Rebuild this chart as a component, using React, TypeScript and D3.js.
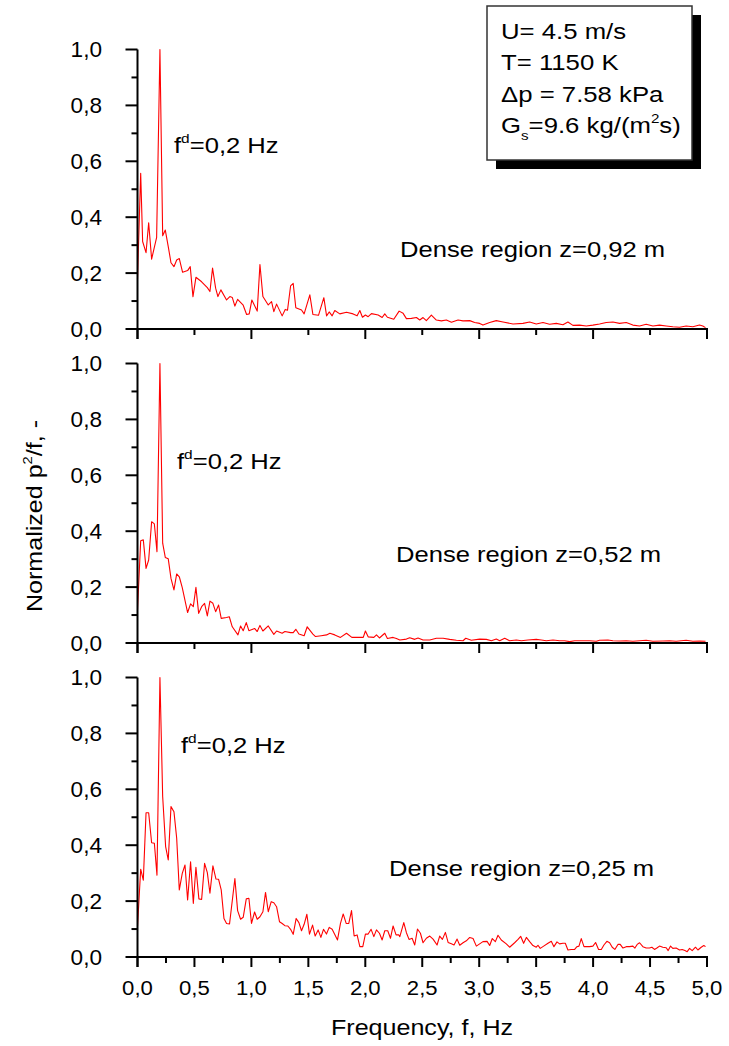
import React from 'react';
import * as d3 from 'd3';

const W = 729;
const H = 1046;

// Panel 1: Dense region z=0,92 m
const FREQ_092 = [0.0, 0.028, 0.045, 0.075, 0.098, 0.124, 0.168, 0.197, 0.221, 0.244, 0.27, 0.294, 0.32, 0.344, 0.367, 0.396, 0.44, 0.463, 0.487, 0.513, 0.563, 0.613, 0.636, 0.659, 0.686, 0.706, 0.732, 0.782, 0.811, 0.832, 0.855, 0.879, 0.928, 0.958, 0.981, 1.004, 1.051, 1.075, 1.101, 1.148, 1.177, 1.197, 1.221, 1.27, 1.297, 1.317, 1.344, 1.367, 1.39, 1.44, 1.463, 1.513, 1.54, 1.589, 1.636, 1.66, 1.683, 1.709, 1.732, 1.776, 1.835, 1.893, 1.928, 1.952, 1.975, 2.001, 2.025, 2.054, 2.113, 2.148, 2.171, 2.194, 2.25, 2.297, 2.332, 2.361, 2.405, 2.449, 2.478, 2.507, 2.536, 2.58, 2.624, 2.668, 2.712, 2.756, 2.814, 2.858, 2.917, 2.96, 3.004, 3.033, 3.092, 3.15, 3.209, 3.297, 3.384, 3.443, 3.501, 3.56, 3.618, 3.677, 3.735, 3.779, 3.823, 3.881, 3.94, 3.998, 4.057, 4.115, 4.174, 4.232, 4.291, 4.349, 4.408, 4.466, 4.525, 4.583, 4.642, 4.7, 4.759, 4.817, 4.876, 4.934, 4.963, 4.987];
const VAL_092 = [0.18, 0.557, 0.313, 0.273, 0.38, 0.25, 0.328, 1.0, 0.334, 0.354, 0.295, 0.237, 0.223, 0.247, 0.252, 0.203, 0.209, 0.223, 0.116, 0.185, 0.169, 0.148, 0.134, 0.218, 0.146, 0.116, 0.14, 0.104, 0.116, 0.113, 0.082, 0.106, 0.085, 0.052, 0.054, 0.104, 0.064, 0.231, 0.116, 0.086, 0.098, 0.062, 0.089, 0.047, 0.07, 0.067, 0.154, 0.163, 0.076, 0.068, 0.054, 0.122, 0.052, 0.049, 0.112, 0.047, 0.061, 0.047, 0.066, 0.054, 0.06, 0.054, 0.047, 0.066, 0.042, 0.05, 0.044, 0.055, 0.05, 0.041, 0.054, 0.042, 0.035, 0.064, 0.056, 0.037, 0.038, 0.041, 0.032, 0.041, 0.03, 0.05, 0.032, 0.029, 0.032, 0.024, 0.032, 0.029, 0.03, 0.023, 0.02, 0.014, 0.023, 0.03, 0.025, 0.018, 0.02, 0.025, 0.018, 0.023, 0.017, 0.02, 0.015, 0.025, 0.013, 0.014, 0.011, 0.014, 0.018, 0.023, 0.025, 0.02, 0.023, 0.014, 0.011, 0.017, 0.011, 0.014, 0.011, 0.008, 0.006, 0.011, 0.008, 0.014, 0.011, 0.005];

// Panel 2: Dense region z=0,52 m
const FREQ_052 = [0.0, 0.028, 0.051, 0.075, 0.098, 0.124, 0.148, 0.171, 0.197, 0.221, 0.244, 0.27, 0.294, 0.32, 0.344, 0.367, 0.393, 0.44, 0.466, 0.49, 0.513, 0.537, 0.563, 0.589, 0.613, 0.636, 0.662, 0.686, 0.712, 0.735, 0.782, 0.806, 0.832, 0.882, 0.905, 0.928, 0.955, 0.978, 1.028, 1.051, 1.075, 1.101, 1.148, 1.197, 1.221, 1.27, 1.294, 1.344, 1.367, 1.39, 1.417, 1.463, 1.49, 1.54, 1.563, 1.613, 1.66, 1.689, 1.732, 1.782, 1.835, 1.882, 1.952, 1.982, 2.001, 2.025, 2.075, 2.098, 2.124, 2.171, 2.194, 2.244, 2.273, 2.303, 2.361, 2.39, 2.434, 2.463, 2.507, 2.566, 2.624, 2.683, 2.741, 2.8, 2.858, 2.882, 2.931, 3.004, 3.063, 3.107, 3.15, 3.18, 3.224, 3.267, 3.326, 3.37, 3.428, 3.501, 3.545, 3.589, 3.648, 3.706, 3.75, 3.794, 3.838, 3.896, 3.969, 4.028, 4.057, 4.13, 4.174, 4.232, 4.291, 4.349, 4.408, 4.466, 4.525, 4.613, 4.671, 4.729, 4.773, 4.817, 4.876, 4.934, 4.987];
const VAL_052 = [0.118, 0.366, 0.369, 0.267, 0.297, 0.434, 0.426, 0.327, 1.0, 0.357, 0.306, 0.301, 0.231, 0.19, 0.247, 0.237, 0.198, 0.109, 0.14, 0.13, 0.199, 0.106, 0.13, 0.142, 0.097, 0.15, 0.142, 0.112, 0.136, 0.088, 0.091, 0.094, 0.058, 0.029, 0.061, 0.044, 0.073, 0.044, 0.052, 0.041, 0.063, 0.043, 0.061, 0.031, 0.043, 0.035, 0.041, 0.037, 0.037, 0.049, 0.032, 0.026, 0.058, 0.032, 0.023, 0.026, 0.029, 0.035, 0.029, 0.02, 0.035, 0.02, 0.02, 0.02, 0.043, 0.022, 0.02, 0.029, 0.018, 0.035, 0.016, 0.02, 0.016, 0.011, 0.014, 0.019, 0.013, 0.018, 0.011, 0.011, 0.017, 0.017, 0.013, 0.01, 0.008, 0.017, 0.01, 0.014, 0.013, 0.008, 0.014, 0.008, 0.017, 0.008, 0.011, 0.008, 0.011, 0.013, 0.011, 0.008, 0.011, 0.008, 0.008, 0.005, 0.008, 0.008, 0.008, 0.006, 0.01, 0.011, 0.008, 0.007, 0.008, 0.006, 0.008, 0.01, 0.006, 0.007, 0.008, 0.006, 0.008, 0.01, 0.006, 0.007, 0.006];

// Panel 3: Dense region z=0,25 m
const FREQ_025 = [0.0, 0.028, 0.051, 0.075, 0.098, 0.124, 0.148, 0.171, 0.197, 0.221, 0.247, 0.27, 0.294, 0.32, 0.344, 0.367, 0.393, 0.417, 0.44, 0.466, 0.49, 0.513, 0.539, 0.563, 0.589, 0.613, 0.636, 0.662, 0.689, 0.712, 0.735, 0.759, 0.782, 0.808, 0.855, 0.879, 0.905, 0.928, 0.955, 0.978, 1.001, 1.028, 1.051, 1.075, 1.101, 1.124, 1.148, 1.174, 1.197, 1.221, 1.247, 1.27, 1.294, 1.32, 1.344, 1.367, 1.393, 1.417, 1.44, 1.463, 1.487, 1.51, 1.537, 1.56, 1.586, 1.61, 1.633, 1.659, 1.683, 1.709, 1.756, 1.782, 1.806, 1.832, 1.855, 1.879, 1.902, 1.928, 1.952, 1.978, 2.001, 2.025, 2.051, 2.075, 2.098, 2.124, 2.148, 2.171, 2.197, 2.221, 2.244, 2.27, 2.294, 2.303, 2.338, 2.361, 2.384, 2.411, 2.434, 2.458, 2.484, 2.507, 2.536, 2.566, 2.595, 2.63, 2.653, 2.677, 2.703, 2.727, 2.756, 2.779, 2.806, 2.829, 2.858, 2.887, 2.917, 2.946, 2.975, 3.004, 3.033, 3.069, 3.092, 3.115, 3.142, 3.165, 3.194, 3.238, 3.267, 3.311, 3.341, 3.364, 3.39, 3.414, 3.443, 3.472, 3.501, 3.516, 3.536, 3.566, 3.604, 3.633, 3.656, 3.683, 3.706, 3.735, 3.756, 3.779, 3.808, 3.838, 3.858, 3.876, 3.896, 3.92, 3.969, 3.998, 4.022, 4.048, 4.072, 4.095, 4.121, 4.145, 4.168, 4.191, 4.218, 4.238, 4.262, 4.291, 4.32, 4.349, 4.367, 4.387, 4.408, 4.437, 4.466, 4.495, 4.516, 4.539, 4.56, 4.583, 4.612, 4.642, 4.659, 4.68, 4.7, 4.729, 4.759, 4.782, 4.806, 4.826, 4.847, 4.87, 4.899, 4.92, 4.949, 4.972, 4.987];
const VAL_025 = [0.109, 0.314, 0.275, 0.516, 0.516, 0.409, 0.407, 0.293, 1.0, 0.574, 0.395, 0.347, 0.538, 0.52, 0.425, 0.24, 0.299, 0.329, 0.204, 0.341, 0.192, 0.321, 0.208, 0.206, 0.335, 0.302, 0.228, 0.326, 0.279, 0.278, 0.24, 0.138, 0.12, 0.118, 0.281, 0.166, 0.135, 0.142, 0.208, 0.21, 0.12, 0.161, 0.135, 0.144, 0.162, 0.231, 0.162, 0.198, 0.194, 0.18, 0.126, 0.12, 0.112, 0.111, 0.099, 0.081, 0.138, 0.123, 0.094, 0.117, 0.153, 0.082, 0.114, 0.075, 0.097, 0.07, 0.099, 0.082, 0.106, 0.099, 0.061, 0.12, 0.154, 0.12, 0.12, 0.166, 0.075, 0.079, 0.037, 0.037, 0.082, 0.082, 0.099, 0.073, 0.097, 0.085, 0.061, 0.094, 0.094, 0.067, 0.111, 0.079, 0.079, 0.073, 0.123, 0.087, 0.063, 0.067, 0.043, 0.1, 0.085, 0.051, 0.067, 0.075, 0.064, 0.043, 0.075, 0.063, 0.088, 0.052, 0.047, 0.043, 0.064, 0.042, 0.051, 0.058, 0.07, 0.066, 0.039, 0.047, 0.055, 0.056, 0.041, 0.066, 0.055, 0.078, 0.061, 0.047, 0.035, 0.051, 0.063, 0.074, 0.049, 0.07, 0.055, 0.041, 0.035, 0.042, 0.031, 0.039, 0.049, 0.056, 0.037, 0.054, 0.047, 0.049, 0.049, 0.025, 0.027, 0.027, 0.037, 0.039, 0.066, 0.037, 0.037, 0.039, 0.052, 0.027, 0.027, 0.043, 0.056, 0.051, 0.035, 0.027, 0.045, 0.045, 0.032, 0.037, 0.037, 0.039, 0.032, 0.045, 0.051, 0.037, 0.032, 0.032, 0.035, 0.027, 0.032, 0.039, 0.035, 0.033, 0.023, 0.039, 0.031, 0.032, 0.025, 0.027, 0.023, 0.019, 0.031, 0.023, 0.035, 0.025, 0.035, 0.041, 0.037];

const PANEL_LABELS = ['Dense region z=0,92 m', 'Dense region z=0,52 m', 'Dense region z=0,25 m'];
const PEAK_LABEL = '=0,2 Hz';

const Y_MAJOR = [0, 0.2, 0.4, 0.6, 0.8, 1.0];
const Y_MINOR = [0.1, 0.3, 0.5, 0.7, 0.9];
const Y_TICK_LABELS = ['0,0', '0,2', '0,4', '0,6', '0,8', '1,0'];

const X_MAJOR_TOP = [0, 1, 2, 3, 4, 5];
const X_MINOR_TOP = [0.5, 1.5, 2.5, 3.5, 4.5];
const X_MAJOR_BOTTOM = [0, 0.5, 1, 1.5, 2, 2.5, 3, 3.5, 4, 4.5, 5];
const X_MINOR_BOTTOM = [0.25, 0.75, 1.25, 1.75, 2.25, 2.75, 3.25, 3.75, 4.25, 4.75];
const X_TICK_LABELS = ['0,0', '0,5', '1,0', '1,5', '2,0', '2,5', '3,0', '3,5', '4,0', '4,5', '5,0'];

const FONT = "'Liberation Sans', Arial, Helvetica, sans-serif";
const SX = 1.14;
const SXA = 1.19;
const SXL = 1.17;

const x = d3.scaleLinear().domain([0, 5]).range([137.5, 707]);

type PanelDef = {
  freq: number[];
  val: number[];
  label: string;
  y0: number;
  y1: number;
  peak: [number, number];
  dense: [number, number];
  bottom: boolean;
};

const panels: PanelDef[] = [
  { freq: FREQ_092, val: VAL_092, label: PANEL_LABELS[0], y0: 329, y1: 49.5, peak: [174, 153], dense: [400, 257], bottom: false },
  { freq: FREQ_052, val: VAL_052, label: PANEL_LABELS[1], y0: 643, y1: 363.5, peak: [177, 469], dense: [396, 562], bottom: false },
  { freq: FREQ_025, val: VAL_025, label: PANEL_LABELS[2], y0: 957, y1: 677.5, peak: [181, 753], dense: [389, 876], bottom: true },
];

function Panel({ p }: { p: PanelDef }) {
  const y = d3.scaleLinear().domain([0, 1]).range([p.y0, p.y1]);
  const pts: [number, number][] = p.freq.map((f, i) => [f, p.val[i]]);
  const line = d3.line<[number, number]>().x(d => x(d[0])).y(d => y(d[1]));
  const xMajor = p.bottom ? X_MAJOR_BOTTOM : X_MAJOR_TOP;
  const xMinor = p.bottom ? X_MINOR_BOTTOM : X_MINOR_TOP;
  const ax = x(0);
  return (
    <g>
      <path d={line(pts) || ''} fill="none" stroke="#ff0000" strokeWidth={1.1} strokeLinejoin="round" />
      <line x1={ax} x2={ax} y1={y(1)} y2={y(0) + 10} stroke="#000" strokeWidth={2} />
      {Y_MAJOR.map((v, i) => (
        <line key={'ym' + i} x1={ax - 12} x2={ax} y1={y(v)} y2={y(v)} stroke="#000" strokeWidth={2} />
      ))}
      {Y_MINOR.map((v, i) => (
        <line key={'yn' + i} x1={ax - 6} x2={ax} y1={y(v)} y2={y(v)} stroke="#000" strokeWidth={2} />
      ))}
      {Y_MAJOR.map((v, i) => (
        <text key={'yl' + i} transform={`translate(102,${y(v) + 7.5}) scale(1.05,1)`} textAnchor="end" fontSize={21.5} fontFamily={FONT} fill="#000">
          {Y_TICK_LABELS[i]}
        </text>
      ))}
      <line x1={ax - 1} x2={x(5) + 1} y1={y(0)} y2={y(0)} stroke="#000" strokeWidth={2} />
      {xMajor.map((v, i) => (
        <line key={'xm' + i} x1={x(v)} x2={x(v)} y1={y(0)} y2={y(0) + 10} stroke="#000" strokeWidth={2} />
      ))}
      {xMinor.map((v, i) => (
        <line key={'xn' + i} x1={x(v)} x2={x(v)} y1={y(0)} y2={y(0) + 6} stroke="#000" strokeWidth={2} />
      ))}
      {p.bottom && X_MAJOR_BOTTOM.map((v, i) => (
        <text key={'xl' + i} transform={`translate(${x(v)},995) scale(1.08,1)`} textAnchor="middle" fontSize={20.5} fontFamily={FONT} fill="#000">
          {X_TICK_LABELS[i]}
        </text>
      ))}
      <text transform={`translate(${p.peak[0]},${p.peak[1]}) scale(${SXA},1)`} fontSize={21.5} fontFamily={FONT} fill="#000">
        f<tspan dy={-10} fontSize={13}>d</tspan><tspan dy={10}>{PEAK_LABEL}</tspan>
      </text>
      <text transform={`translate(${p.dense[0]},${p.dense[1]}) scale(${SXA},1)`} fontSize={21.5} fontFamily={FONT} fill="#000">
        {p.label}
      </text>
    </g>
  );
}

export default function App() {
  return (
    <svg width={W} height={H} viewBox={`0 0 ${W} ${H}`} style={{ position: 'absolute', left: 0, top: 0, background: '#fff' }}>
      <rect x={0} y={0} width={W} height={H} fill="#fff" />
      {panels.map((p, i) => <Panel key={i} p={p} />)}
      <text transform={`translate(422,1035) scale(${SX},1)`} textAnchor="middle" fontSize={22} fontFamily={FONT} fill="#000">
        Frequency, f, Hz
      </text>
      <text transform={`translate(42,516) rotate(-90) scale(${SX},1)`} textAnchor="middle" fontSize={22} fontFamily={FONT} fill="#000">
        Normalized p<tspan dy={-10} fontSize={13}>2</tspan><tspan dy={10}>/f, -</tspan>
      </text>
      <rect x={496} y={15} width={205} height={154} fill="#000" />
      <rect x={487} y={6} width={205} height={154} fill="#fff" stroke="#333" strokeWidth={1.5} />
      <g fontSize={22} fontFamily={FONT} fill="#000">
        <text transform={`translate(501,39) scale(${SXL},1)`}>U= 4.5 m/s</text>
        <text transform={`translate(501,70) scale(${SXL},1)`}>T= 1150 K</text>
        <text transform={`translate(501,101.5) scale(${SXL},1)`}>Δp = 7.58 kPa</text>
        <text transform={`translate(501,132.5) scale(${SXL},1)`}>
          G<tspan dy={7} fontSize={13}>s</tspan><tspan dy={-7}>=9.6 kg/(m</tspan><tspan dy={-10} fontSize={13}>2</tspan><tspan dy={10}>s)</tspan>
        </text>
      </g>
    </svg>
  );
}
